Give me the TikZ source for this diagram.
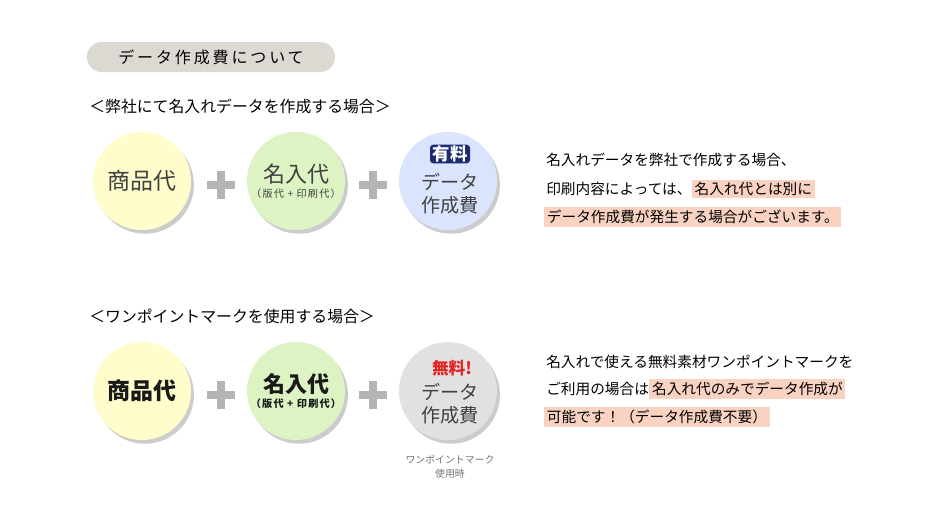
\documentclass[tikz,border=0pt]{standalone}
\usepackage{fontspec}
\setmainfont{Noto Sans CJK JP}
\usepackage{xcolor}
\usepackage{tikz}
\usetikzlibrary{positioning,shadows}

\definecolor{pillgray}{HTML}{DCD9D3}
\definecolor{goodsyellow}{HTML}{FEFDCB}
\definecolor{namegreen}{HTML}{DDF3C3}
\definecolor{paidblue}{HTML}{DAE4FC}
\definecolor{freegray}{HTML}{E1E1E1}
\definecolor{shadowgray}{HTML}{CCCCCC}
\definecolor{plusgray}{HTML}{B4B4B4}
\definecolor{peach}{HTML}{F9D2C2}
\definecolor{navy}{HTML}{1C2A70}
\definecolor{freered}{HTML}{E02424}

\tikzset{
  coin/.style={circle, minimum size=73.5pt, inner sep=0pt, align=center,
    drop shadow={shadow xshift=2.2pt, shadow yshift=-2.8pt, fill=shadowgray, opacity=1}},
  plusbar/.style={plusgray, line width=6pt},
  note/.style={anchor=west, inner sep=0pt, font=\fontsize{11}{12}\selectfont},
  marker/.style={anchor=west, fill=peach, inner xsep=2pt, inner ysep=2pt,
    font=\fontsize{11}{12}\selectfont},
}

\begin{document}
\begin{tikzpicture}[x=0.75pt, y=-0.75pt]
\useasboundingbox (0,0) rectangle (940,508);

% title
\node[fill=pillgray, rounded corners=11pt, minimum width=186pt, minimum height=22.5pt,
  font=\fontsize{12}{13}\selectfont\addfontfeature{LetterSpace=18}] (title) at (211,57) {データ作成費について};

% case 1
\node[anchor=west, inner sep=0pt, font=\fontsize{11.9}{13}\selectfont] (head1) at (89,106) {＜弊社にて名入れデータを作成する場合＞};

\node[coin, fill=goodsyellow, font=\fontsize{17.2}{18}\selectfont, text=black!75] (goods1) at (142,181) {商品代};
\node[coin, fill=namegreen, text=black!75] (name1) at (296,181)
  {{\fontsize{16.5}{18}\selectfont 名入代}\\[-1pt]{\fontsize{7.6}{9}\selectfont\addfontfeature{LetterSpace=12}（版代 + 印刷代）}};
\node[coin, fill=paidblue] (data1) at (448,181) {};
\node[fill=navy, text=white, rounded corners=2.5pt, inner xsep=2pt, inner ysep=0.8pt,
  font=\fontsize{13}{14}\bfseries\selectfont] (paid) at (450,154) {有料};
\node[align=center, text=black!75, font=\fontsize{14.3}{17}\selectfont] (data1txt) at (450,194) {データ\\作成費};

\node (plus1) at (221,185) [minimum size=20pt] {};
\draw[plusbar] (plus1.west) -- (plus1.east);
\draw[plusbar] (plus1.north) -- (plus1.south);
\node (plus2) at (373,185) [minimum size=20pt] {};
\draw[plusbar] (plus2.west) -- (plus2.east);
\draw[plusbar] (plus2.north) -- (plus2.south);

\node[note] (note1a) at (546,160) {名入れデータを弊社で作成する場合、};
\node[note] (note1b) at (546,189) {印刷内容によっては、};
\node[marker, right=0pt of note1b] (mark1b) {名入れ代とは別に\hspace{0.7em}};
\node[marker] (mark1c) at (544,217) {データ作成費が発生する場合がございます。};

% case 2
\node[anchor=west, inner sep=0pt, font=\fontsize{11.9}{13}\selectfont] (head2) at (89,316) {＜ワンポイントマークを使用する場合＞};

\node[coin, fill=goodsyellow, text=black!90, font=\fontsize{17.2}{18}\bfseries\selectfont] (goods2) at (142,391) {商品代};
\node[coin, fill=namegreen, text=black!90] (name2) at (296,391)
  {{\fontsize{16.5}{18}\bfseries\selectfont 名入代}\\[-1pt]{\fontsize{7.6}{9}\bfseries\selectfont\addfontfeature{LetterSpace=12}（版代 + 印刷代）}};
\node[coin, fill=freegray] (data2) at (448,391) {};
\node[text=freered, inner sep=0pt, font=\fontsize{12.5}{13}\bfseries\selectfont] (free) at (452,368) {無料!};
\node[align=center, text=black!75, font=\fontsize{14.3}{17}\selectfont] (data2txt) at (450,404) {データ\\作成費};
\node[align=center, text=black!55, font=\fontsize{7.4}{10.5}\selectfont] (freenote) at (450,467) {ワンポイントマーク\\使用時};

\node (plus3) at (221,395) [minimum size=20pt] {};
\draw[plusbar] (plus3.west) -- (plus3.east);
\draw[plusbar] (plus3.north) -- (plus3.south);
\node (plus4) at (373,395) [minimum size=20pt] {};
\draw[plusbar] (plus4.west) -- (plus4.east);
\draw[plusbar] (plus4.north) -- (plus4.south);

\node[note] (note2a) at (546,362) {名入れで使える無料素材ワンポイントマークを};
\node[note] (note2b) at (546,389) {ご利用の場合は};
\node[marker, right=0pt of note2b] (mark2b) {名入れ代のみでデータ作成が\hspace{0.7em}};
\node[marker] (mark2c) at (544,417) {可能です！（データ作成費不要）};
\end{tikzpicture}
\end{document}
